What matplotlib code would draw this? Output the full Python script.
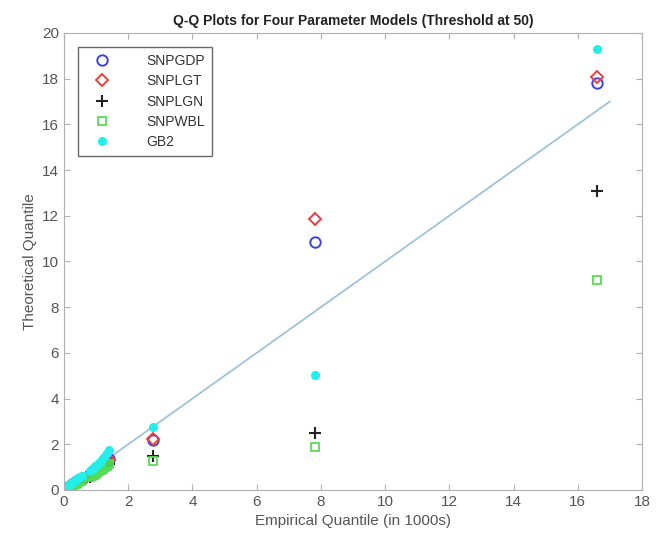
import matplotlib
matplotlib.use("Agg")
import matplotlib.pyplot as plt

plt.rcParams['font.family'] = ['Liberation Sans', 'DejaVu Sans']

# empirical quantiles (in 1000s)
emp_q = [0.02, 0.05, 0.08, 0.11, 0.14, 0.17, 0.20, 0.24, 0.28, 0.32, 0.36, 0.40,
         0.45, 0.50, 0.55, 0.80, 0.86, 0.92, 0.98, 1.04, 1.10, 1.16, 1.22, 1.28,
         1.34, 1.40, 2.78, 7.82, 16.6]

# theoretical quantiles per model
snpgdp = [0.01, 0.03, 0.06, 0.09, 0.12, 0.15, 0.18, 0.22, 0.26, 0.30, 0.33, 0.37,
          0.42, 0.46, 0.50, 0.72, 0.78, 0.84, 0.90, 0.96, 1.02, 1.08, 1.14, 1.20,
          1.27, 1.35, 2.19, 10.85, 17.8]
snplgt = [0.01, 0.03, 0.05, 0.08, 0.11, 0.14, 0.17, 0.21, 0.25, 0.28, 0.32, 0.36,
          0.40, 0.44, 0.48, 0.62, 0.68, 0.74, 0.81, 0.88, 0.95, 1.02, 1.09, 1.16,
          1.24, 1.32, 2.22, 11.86, 18.07]
snplgn = [0.01, 0.02, 0.05, 0.07, 0.10, 0.13, 0.16, 0.19, 0.23, 0.26, 0.30, 0.33,
          0.37, 0.41, 0.45, 0.55, 0.60, 0.66, 0.72, 0.78, 0.84, 0.90, 0.96, 1.02,
          1.08, 1.15, 1.49, 2.50, 13.1]
snpwbl = [0.01, 0.02, 0.04, 0.07, 0.09, 0.12, 0.15, 0.18, 0.22, 0.25, 0.28, 0.32,
          0.36, 0.40, 0.44, 0.56, 0.61, 0.66, 0.71, 0.76, 0.82, 0.88, 0.94, 1.00,
          1.06, 1.12, 1.27, 1.88, 9.19]
gb2 = [0.04, 0.08, 0.12, 0.16, 0.19, 0.22, 0.26, 0.30, 0.34, 0.38, 0.42, 0.46,
       0.51, 0.56, 0.61, 0.84, 0.90, 0.97, 1.04, 1.11, 1.19, 1.28, 1.38, 1.49,
       1.61, 1.75, 2.76, 5.03, 19.3]

ref_line = [0, 17]

fig = plt.figure(figsize=(6.56, 5.49), dpi=100)
ax = fig.add_axes([0.0976, 0.1075, 0.881, 0.8325])

ax.plot(ref_line, ref_line, color='#9cc3dc', lw=1.3, zorder=1)

ax.plot(emp_q, snpgdp, 'o', mfc='none', mec='#4040e0', ms=7.5, mew=1.4, label='SNPGDP')
ax.plot(emp_q, snplgt, 'D', mfc='none', mec='#e84040', ms=6.5, mew=1.4, label='SNPLGT')
ax.plot(emp_q, snplgn, '+', color='#222222', ms=8, mew=1.5, label='SNPLGN')
ax.plot(emp_q, snpwbl, 's', mfc='none', mec='#55dd55', ms=6, mew=1.3, label='SNPWBL')
ax.plot(emp_q, gb2, 'o', color='#22eeee', mec='#22eeee', ms=5.5, label='GB2')

ax.set_xlim(0, 18)
ax.set_ylim(0, 20)
ax.set_xticks(range(0, 19, 2))
ax.set_yticks(range(0, 21, 2))

for s in ax.spines.values():
    s.set_color('#b0b0b0')
    s.set_linewidth(0.8)
ax.tick_params(direction='in', length=4, color='#b0b0b0', labelsize=11,
               labelcolor='#555555', top=True, right=True,
               labeltop=False, labelright=False)

ax.set_xlabel('Empirical Quantile (in 1000s)', fontsize=11, color='#555555')
ax.set_ylabel('Theoretical Quantile', fontsize=11, color='#555555')
ax.set_title('Q-Q Plots for Four Parameter Models (Threshold at 50)',
             fontsize=10, fontweight='bold', color='#222222', pad=6)

leg = ax.legend(loc='upper left', bbox_to_anchor=(0.024, 0.969), fontsize=10,
                frameon=True, fancybox=False, edgecolor='#444444',
                borderpad=0.5, labelspacing=0.45, handletextpad=1.9,
                handlelength=2.5, borderaxespad=0)
for t in leg.get_texts():
    t.set_color('#333333')

fig.savefig('out.png', dpi=100)
